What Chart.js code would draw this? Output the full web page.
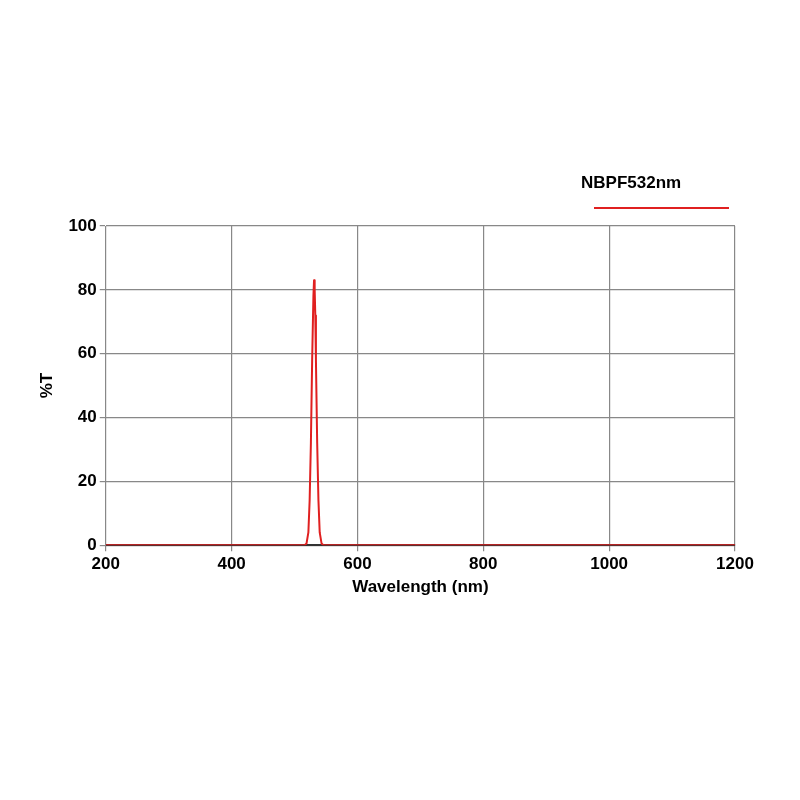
<!DOCTYPE html>
<html><head><style>body{margin:0;background:#fff}#w{width:800px;height:800px}</style>
<script src="https://cdn.jsdelivr.net/npm/chart.js"></script></head><body>
<div id="w"><canvas id="c" width="800" height="800"></canvas></div>
<script>
const seriesName="NBPF532nm";
const wavelengths=[200,500,516,519,522,524,526,528,530,531,532,533,534,536,538,540,543,546,560,1200];
const transmission=[0,0,0,0.5,4,14,32,58,78,83,80,72,58,32,14,4,0.5,0,0,0];
const xTicks=[200,400,600,800,1000,1200];
const yTicks=[0,20,40,60,80,100];
const legendPlugin={id:'lg',afterDraw(ch){const c=ch.ctx;c.save();c.font='bold 17px Arial, "Liberation Sans"';c.fillStyle='#000';c.textAlign='left';c.textBaseline='middle';c.fillText(seriesName,581,183);c.strokeStyle='#e02020';c.lineWidth=2;c.beginPath();c.moveTo(594,208);c.lineTo(729,208);c.stroke();c.restore();}};
new Chart(document.getElementById('c'),{type:'line',
data:{datasets:[{data:wavelengths.map((x,i)=>({x,y:transmission[i]})),borderColor:'#e02020',borderWidth:2,pointRadius:0,tension:0,borderJoinStyle:'round'}]},
options:{responsive:false,animation:false,layout:{padding:{left:29,right:65,top:226,bottom:202}},
plugins:{legend:{display:false},tooltip:{enabled:false}},
scales:{x:{type:'linear',min:200,max:1200,afterBuildTicks:a=>{a.ticks=xTicks.map(v=>({value:v}))},
ticks:{color:'#000',font:{size:17,weight:'bold',family:'Arial, "Liberation Sans"'},maxRotation:0,callback:v=>String(v)},
grid:{color:'#888',lineWidth:1.2,tickLength:6},border:{color:'#333',width:2},
title:{display:true,text:'Wavelength (nm)',color:'#000',font:{size:17,weight:'bold',family:'Arial, "Liberation Sans"'},padding:0}},
y:{min:0,max:100,afterBuildTicks:a=>{a.ticks=yTicks.map(v=>({value:v}))},
ticks:{color:'#000',font:{size:17,weight:'bold',family:'Arial, "Liberation Sans"'}},
grid:{color:'#888',lineWidth:1.2,tickLength:6},border:{color:'#888'},
title:{display:true,text:'%T',color:'#000',font:{size:17,weight:'bold',family:'Arial, "Liberation Sans"'},padding:8}}}},
plugins:[legendPlugin]});
</script></body></html>
